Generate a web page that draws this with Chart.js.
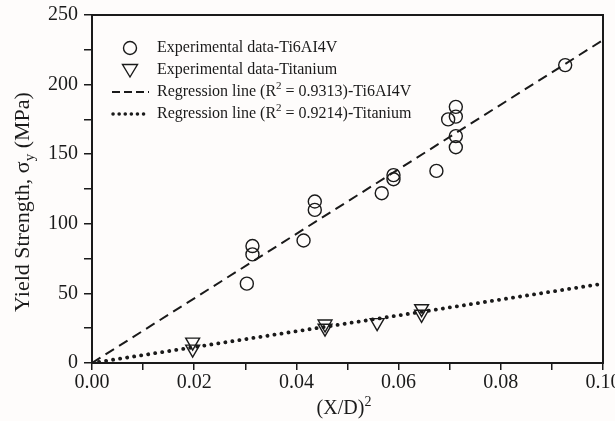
<!DOCTYPE html>
<html>
<head>
<meta charset="utf-8">
<script src="https://cdn.jsdelivr.net/npm/chart.js@4/dist/chart.umd.min.js"></script>
<style>
  html, body { margin: 0; padding: 0; background: #fefcfb; }
  #wrap { width: 615px; height: 421px; }
</style>
</head>
<body>
<div id="wrap"><canvas id="chart"></canvas></div>
<script>
// Experimental data - Ti6AI4V
const alloyX = [0.0303, 0.0314, 0.0314, 0.0414, 0.0436, 0.0436, 0.0567, 0.0590, 0.0590, 0.0674, 0.0697, 0.0712, 0.0712, 0.0712, 0.0712, 0.0926];
const alloyY = [57, 78, 84, 88, 110, 116, 122, 132, 135, 138, 175, 155, 163, 177, 184, 214];
// Experimental data - Titanium
const tiX = [0.0197, 0.0197, 0.0456, 0.0456, 0.0558, 0.0645, 0.0645];
const tiY = [15, 10, 28, 25, 29, 39, 35];
// Regression lines (end points)
const regX = [0, 0.10];
const regAlloyY = [0, 232];
const regTiY = [0, 57];

const legendLabels = [
  'Experimental data-Ti6AI4V',
  'Experimental data-Titanium',
  ['Regression line (R', '2', ' = 0.9313)-Ti6AI4V'],
  ['Regression line (R', '2', ' = 0.9214)-Titanium']
];

const ink = '#1a1a1a';
const serif = '"Liberation Serif", "DejaVu Serif", serif';

function pts(xs, ys) { return xs.map((x, i) => ({ x: x, y: ys[i] })); }

// draws text with a raised (or lowered) small part
function drawParts(ctx, parts, x, y, size, shift) {
  ctx.font = size + 'px ' + serif;
  ctx.fillText(parts[0], x, y);
  x += ctx.measureText(parts[0]).width;
  ctx.font = Math.round(size * 0.7) + 'px ' + serif;
  ctx.fillText(parts[1], x, y + shift);
  x += ctx.measureText(parts[1]).width;
  ctx.font = size + 'px ' + serif;
  ctx.fillText(parts[2], x, y);
}

function partsWidth(ctx, parts, size) {
  ctx.font = size + 'px ' + serif;
  let w = ctx.measureText(parts[0]).width + ctx.measureText(parts[2]).width;
  ctx.font = Math.round(size * 0.7) + 'px ' + serif;
  return w + ctx.measureText(parts[1]).width;
}

// frame, legend and axis titles
const extras = {
  id: 'extras',
  afterDraw(chart) {
    const ctx = chart.ctx;
    const a = chart.chartArea;
    ctx.save();
    ctx.strokeStyle = ink;
    ctx.lineWidth = 2;
    ctx.strokeRect(a.left, a.top, a.right - a.left, a.bottom - a.top);

    // legend
    ctx.fillStyle = ink;
    ctx.textBaseline = 'middle';
    ctx.textAlign = 'left';
    const rows = [48, 70, 92, 114];
    const tx = 157;
    // circle
    ctx.lineWidth = 1.4;
    ctx.beginPath();
    ctx.arc(130, rows[0], 6.5, 0, Math.PI * 2);
    ctx.stroke();
    // down triangle
    ctx.beginPath();
    ctx.moveTo(122.5, rows[1] - 5.5);
    ctx.lineTo(137.5, rows[1] - 5.5);
    ctx.lineTo(130, rows[1] + 7);
    ctx.closePath();
    ctx.stroke();
    // dashed sample
    ctx.lineWidth = 2;
    ctx.setLineDash([8, 4]);
    ctx.beginPath();
    ctx.moveTo(112, rows[2]);
    ctx.lineTo(149, rows[2]);
    ctx.stroke();
    // dotted sample
    ctx.lineWidth = 3.5;
    ctx.lineCap = 'round';
    ctx.setLineDash([0.1, 6]);
    ctx.beginPath();
    ctx.moveTo(113, rows[3]);
    ctx.lineTo(149, rows[3]);
    ctx.stroke();
    ctx.setLineDash([]);

    ctx.font = '16px ' + serif;
    ctx.fillText(legendLabels[0], tx, rows[0]);
    ctx.fillText(legendLabels[1], tx, rows[1]);
    drawParts(ctx, legendLabels[2], tx, rows[2], 16, -6);
    drawParts(ctx, legendLabels[3], tx, rows[3], 16, -6);

    // x title
    ctx.textBaseline = 'alphabetic';
    const xt = ['(X/D)', '2', ''];
    drawParts(ctx, xt, 344 - partsWidth(ctx, xt, 20) / 2, 414, 20, -8);

    // y title
    ctx.translate(29, 202);
    ctx.rotate(-Math.PI / 2);
    const yt = ['Yield Strength, \u03c3', 'y', ' (MPa)'];
    drawParts(ctx, yt, -partsWidth(ctx, yt, 22) / 2, 0, 22, 5);
    ctx.restore();
  }
};

new Chart(document.getElementById('chart'), {
  type: 'scatter',
  data: {
    datasets: [
      {
        label: 'Experimental data-Ti6AI4V',
        data: pts(alloyX, alloyY),
        pointStyle: 'circle',
        pointRadius: 6.5,
        pointBorderWidth: 1.4,
        borderColor: ink,
        backgroundColor: 'rgba(0,0,0,0)',
        order: 1
      },
      {
        label: 'Experimental data-Titanium',
        data: pts(tiX, tiY),
        pointStyle: 'triangle',
        pointRotation: 180,
        pointRadius: 8,
        pointBorderWidth: 1.4,
        borderColor: ink,
        backgroundColor: 'rgba(0,0,0,0)',
        order: 1
      },
      {
        type: 'line',
        label: 'Regression Ti6AI4V',
        data: pts(regX, regAlloyY),
        borderColor: ink,
        borderWidth: 2,
        borderDash: [10, 6],
        pointRadius: 0,
        fill: false,
        order: 2
      },
      {
        type: 'line',
        label: 'Regression Titanium',
        data: pts(regX, regTiY),
        borderColor: ink,
        borderWidth: 3.8,
        borderDash: [0.1, 7],
        borderCapStyle: 'round',
        pointRadius: 0,
        fill: false,
        order: 2
      }
    ]
  },
  options: {
    responsive: true,
    maintainAspectRatio: false,
    animation: false,
    layout: { padding: { top: 15, right: 12, left: 0, bottom: 0 } },
    plugins: {
      legend: { display: false },
      tooltip: { enabled: false }
    },
    scales: {
      x: {
        type: 'linear',
        min: 0,
        max: 0.10,
        afterFit(s) { s.height = 58; s.paddingLeft = 0; s.paddingRight = 0; },
        ticks: {
          stepSize: 0.01,
          color: ink,
          font: { family: serif, size: 20 },
          padding: 1,
          maxRotation: 0,
          autoSkip: false,
          callback: v => (Math.round(v * 100) % 2 === 0 ? v.toFixed(2) : '')
        },
        grid: { drawOnChartArea: false, tickLength: 7, color: ink, lineWidth: 1.5 },
        border: { color: ink, width: 2 }
      },
      y: {
        min: 0,
        max: 250,
        afterFit(s) { s.width = 92; s.paddingTop = 0; s.paddingBottom = 0; },
        ticks: {
          stepSize: 25,
          color: ink,
          font: { family: serif, size: 20 },
          padding: 6,
          autoSkip: false,
          callback: v => (v % 50 === 0 ? v : '')
        },
        grid: { drawOnChartArea: false, tickLength: 8, color: ink, lineWidth: 1.5 },
        border: { color: ink, width: 2 }
      }
    }
  },
  plugins: [extras]
});
</script>
</body>
</html>
